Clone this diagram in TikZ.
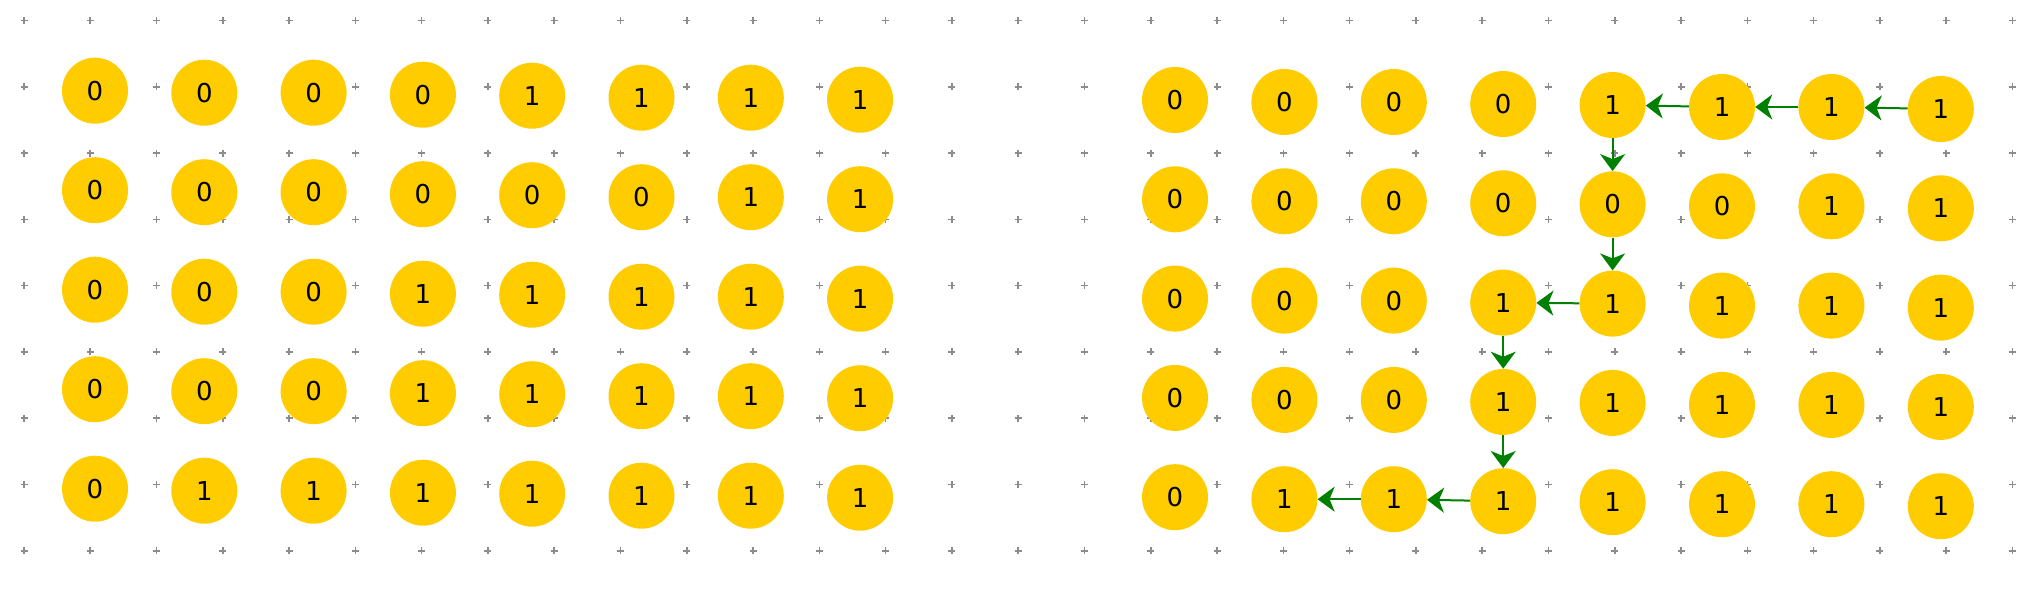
\documentclass[tikz,border=0pt]{standalone}
\usepackage{fontspec}
\setmainfont{DejaVu Sans}
\usetikzlibrary{arrows.meta}
\definecolor{cellyellow}{HTML}{FFCC00}
\definecolor{pathgreen}{HTML}{008000}
\definecolor{gridgray}{HTML}{8C8C8C}

\begin{document}
\begin{tikzpicture}[
            x=1pt, y=-1pt,
            cellnode/.style={circle, fill=cellyellow, minimum size=66pt, inner sep=0pt, font=\fontsize{26}{30}\selectfont},
            gridcross/.style={draw=gridgray, line width=1.6pt},
            patharrow/.style={-{Stealth[length=17pt, width=25pt, inset=5pt]}, draw=pathgreen, line width=2pt}
          ]
          \useasboundingbox (0,0) rectangle (2032,590);

          %Grid
          \foreach \i in {0,...,30} {
            \foreach \j in {0,...,8} {
              \draw[gridcross] ({24+66.28*\i-3.5},{20.5+66.28*\j}) -- ++(7,0)
                ({24+66.28*\i},{20.5+66.28*\j-3.5}) -- ++(0,7);
            }
          }

          %Nodes
          \foreach \r/\vals in {0/{0,0,0,0,1,1,1,1}, 1/{0,0,0,0,0,0,1,1}, 2/{0,0,0,1,1,1,1,1},
                                3/{0,0,0,1,1,1,1,1}, 4/{0,1,1,1,1,1,1,1}} {
            \foreach \v [count=\c from 0] in \vals {
              \pgfmathsetmacro\d{{0,2,2,4,5,7,7,9}[\c]}
              \node[cellnode] at ({95+109.3*\c},{90.7+99.5*\r+\d}) (L-\r-\c) {\v};
              \node[cellnode] at ({1175+109.4*\c},{100+99.3*\r+\d}) (R-\r-\c) {\v};
            }
          }

          %Lines
          \draw[patharrow] (R-0-7) -- (R-0-6);
          \draw[patharrow] (R-0-6) -- (R-0-5);
          \draw[patharrow] (R-0-5) -- (R-0-4);
          \draw[patharrow] (R-0-4) -- (R-1-4);
          \draw[patharrow] (R-1-4) -- (R-2-4);
          \draw[patharrow] (R-2-4) -- (R-2-3);
          \draw[patharrow] (R-2-3) -- (R-3-3);
          \draw[patharrow] (R-3-3) -- (R-4-3);
          \draw[patharrow] (R-4-3) -- (R-4-2);
          \draw[patharrow] (R-4-2) -- (R-4-1);

        \end{tikzpicture}
\end{document}
